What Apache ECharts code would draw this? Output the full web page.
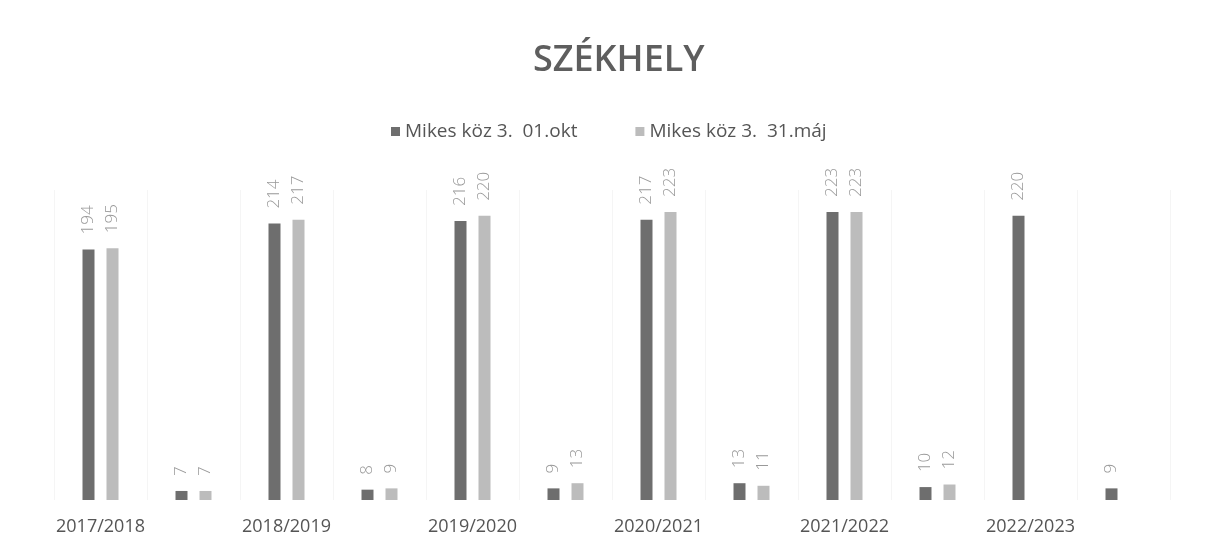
<!DOCTYPE html>
<html>
<head>
<meta charset="UTF-8">
<title>Székhely</title>
<script src="https://cdn.jsdelivr.net/npm/echarts@6/dist/echarts.min.js"></script>
<style>
  html, body { margin: 0; padding: 0; background: #fff; }
  #main { width: 1208px; height: 547px; }
</style>
</head>
<body>
<div id="main"></div>
<script>
// tanévek (minden második oszlop felirat nélküli)
var categories = ['2017/2018', '', '2018/2019', '', '2019/2020', '', '2020/2021', '', '2021/2022', '', '2022/2023', ''];
var seriesNames = ['Mikes köz 3.  01.okt', 'Mikes köz 3.  31.máj'];
var oktValues = [194, 7, 214, 8, 216, 9, 217, 13, 223, 10, 220, 9];
var majValues = [195, 7, 217, 9, 220, 13, 223, 11, 223, 12, null, null];

var chart = echarts.init(document.getElementById('main'));

var labelStyle = {
  show: true,
  position: 'top',
  rotate: 90,
  align: 'left',
  verticalAlign: 'middle',
  distance: 15,
  color: '#999',
  fontSize: 17,
  fontWeight: 300,
  fontFamily: 'Open Sans'
};

var option = {
  backgroundColor: '#fff',
  title: {
    text: 'SZÉKHELY',
    left: 528,
    top: 38,
    textStyle: {
      fontFamily: 'Open Sans',
      fontWeight: 600,
      fontSize: 36,
      color: '#5e5e5e'
    }
  },
  legend: {
    top: 117,
    left: 386,
    itemWidth: 9,
    itemHeight: 9,
    itemGap: 58,
    icon: 'rect',
    textStyle: { fontFamily: 'Open Sans', fontSize: 19, color: '#555' },
    data: seriesNames
  },
  grid: { left: 54, right: 38, top: 190, bottom: 47 },
  xAxis: {
    type: 'category',
    data: categories,
    axisLine: { show: false },
    axisTick: { show: false },
    splitLine: { show: true, lineStyle: { color: '#f5f5f5', width: 1 } },
    axisLabel: {
      interval: 0,
      margin: 18,
      fontFamily: 'Open Sans',
      fontSize: 18,
      color: '#555'
    }
  },
  yAxis: {
    type: 'value',
    min: 0,
    max: 240,
    show: false
  },
  series: [
    {
      name: seriesNames[0],
      type: 'bar',
      data: oktValues,
      barWidth: 12,
      barGap: '100%',
      itemStyle: { color: '#6e6e6e' },
      label: labelStyle
    },
    {
      name: seriesNames[1],
      type: 'bar',
      data: majValues,
      barWidth: 12,
      barGap: '100%',
      itemStyle: { color: '#bcbcbc' },
      label: labelStyle
    }
  ]
};

chart.setOption(option);
</script>
</body>
</html>
